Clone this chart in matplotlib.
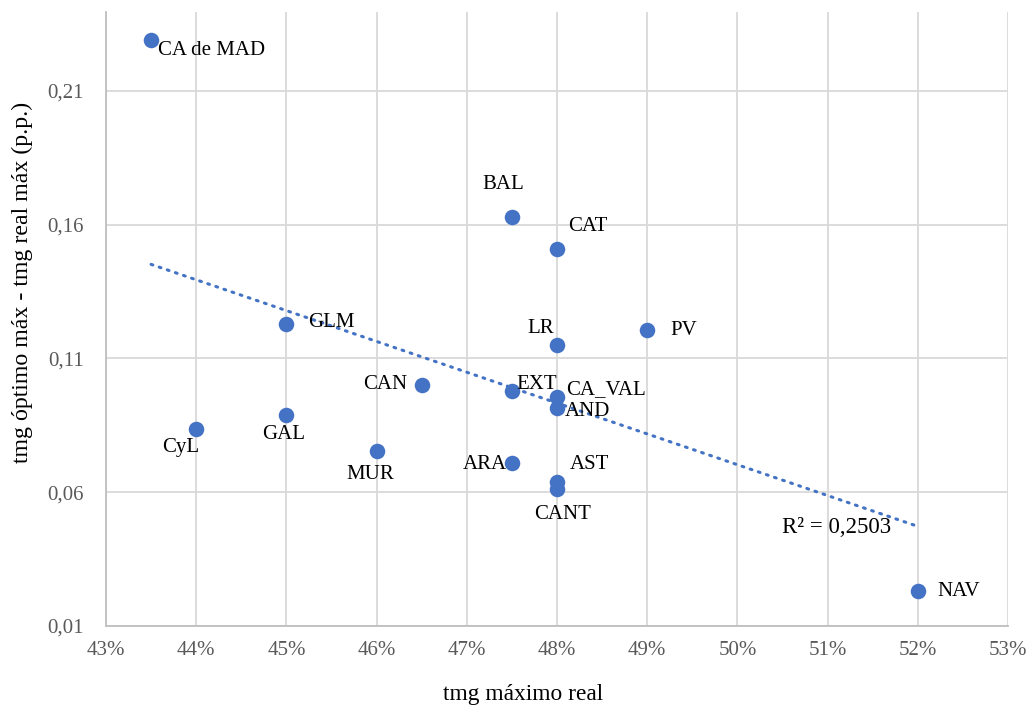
import matplotlib.pyplot as plt
import numpy as np
from matplotlib.ticker import FuncFormatter

plt.rcParams['font.family'] = ['Liberation Serif', 'DejaVu Serif']

# regions, x = tmg maximo real (%), y = tmg optimo max - tmg real max (p.p.)
regions = ['CA de MAD', 'BAL', 'CAT', 'PV', 'LR', 'GLM', 'CAN', 'EXT', 'CA_VAL',
           'AND', 'GAL', 'CyL', 'MUR', 'ARA', 'AST', 'CANT', 'NAV']
tmg_real = [43.5, 47.5, 48.0, 49.0, 48.0, 45.0, 46.5, 47.5, 48.0,
            48.0, 45.0, 44.0, 46.0, 47.5, 48.0, 48.0, 52.0]
diff_pp = [0.229, 0.163, 0.151, 0.1205, 0.115, 0.123, 0.100, 0.098, 0.0955,
           0.0915, 0.0887, 0.0838, 0.0755, 0.071, 0.0639, 0.0613, 0.0231]
# label offsets in pixels (dx, dy) and alignment
label_pos = {
    'CA de MAD': (7, -10, 'left'), 'BAL': (-9, 32, 'center'), 'CAT': (11, 22, 'left'),
    'PV': (23, 0, 'left'), 'LR': (-16, 17, 'center'), 'GLM': (22, 1, 'left'),
    'CAN': (-14, 1, 'right'), 'EXT': (4, 6, 'left'), 'CA_VAL': (9, 8, 'left'),
    'AND': (8, -4, 'left'), 'GAL': (-3, -19, 'center'), 'CyL': (-15, -19, 'center'),
    'MUR': (-6, -24, 'center'), 'ARA': (-5, -2, 'right'), 'AST': (13, 17, 'left'),
    'CANT': (6, -26, 'center'), 'NAV': (20, -1, 'left'),
}

blue = '#4472C4'

fig = plt.figure(figsize=(10.33, 7.11), dpi=100)
ax = fig.add_axes([0.1026, 0.1195, 0.8732, 0.8636])

ax.scatter(tmg_real, diff_pp, s=125, color=blue, zorder=3, linewidths=0)

for name, xv, yv in zip(regions, tmg_real, diff_pp):
    dx, dy, ha = label_pos[name]
    ax.annotate(name, (xv, yv), xytext=(dx, dy), textcoords='offset pixels',
                ha=ha, va='center', fontsize=15, color='black', zorder=4)

# linear trendline
x = np.array(tmg_real)
y = np.array(diff_pp)
slope, intercept = np.polyfit(x, y, 1)
xt = np.array([x.min(), x.max()])
ax.plot(xt, slope * xt + intercept, color=blue, lw=2.2, ls=(0, (0.6, 2.2)),
        dash_capstyle='round', zorder=2)
ax.text(51.10, 0.0470, 'R² = 0,2503', fontsize=16.5, ha='center', va='center')

ax.set_xlim(43, 53)
ax.set_ylim(0.01, 0.2395)
ax.set_xticks(np.arange(43, 54, 1))
ax.set_yticks([0.01, 0.06, 0.11, 0.16, 0.21])
ax.xaxis.set_major_formatter(FuncFormatter(lambda v, p: f'{v:.0f}%'))
ax.yaxis.set_major_formatter(FuncFormatter(lambda v, p: f'{v:.2f}'.replace('.', ',')))
ax.tick_params(length=0, labelsize=15, labelcolor='#595959', pad=11)
ax.tick_params(axis='y', pad=16)

ax.grid(True, color='#D9D9D9', lw=1.3)
ax.set_axisbelow(True)
for side in ['top', 'right']:
    ax.spines[side].set_visible(False)
for side in ['left', 'bottom']:
    ax.spines[side].set_color('#BFBFBF')
    ax.spines[side].set_linewidth(1.3)

ax.set_xlabel('tmg máximo real', fontsize=16.8)
ax.set_ylabel('tmg óptimo máx - tmg real máx (p.p.)', fontsize=17.2)
ax.xaxis.set_label_coords(0.462, -0.094)
ax.yaxis.set_label_coords(-0.081, 0.559)

fig.savefig('out.png', dpi=100)
